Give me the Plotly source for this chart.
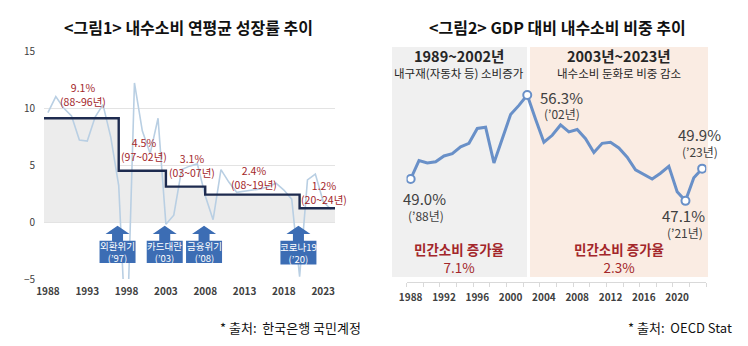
import plotly.graph_objects as go

W, H = 748, 346
FONT = "Noto Sans CJK KR"
RED = "#A3262A"
GRAY_TXT = "#404040"

# ---------------- Figure 1: private consumption growth (%, y/y)
years1 = list(range(1988, 2025))
growth = [9.6, 11.0, 10.0, 9.3, 7.2, 7.1, 9.2, 10.3, 7.4, 3.2,
          -11.5, 12.2, 8.0, 6.0, 9.1, -0.2, 0.6, 4.6, 4.9, 5.1,
          2.3, 0.2, 4.6, 3.5, 2.6, 2.7, 2.8, 2.9, 3.1, 3.4,
          2.8, 2.0, -4.8, 3.7, 4.2, 1.8, 1.1]

# period averages
period_start = [1988, 1997, 2003, 2008, 2020]
period_end = [1996, 2002, 2007, 2019, 2024]
period_avg = [9.1, 4.5, 3.1, 2.4, 1.2]

# crisis markers
crisis_names = ["외환위기", "카드대란", "금융위기", "코로나19"]
crisis_years = [1997, 2003, 2008, 2020]

x1_ticks = [1988, 1993, 1998, 2003, 2008, 2013, 2018, 2023]
y1_ticks = [-5, 0, 5, 10, 15]

# ---------------- Figure 2: private consumption share of GDP (%)
years2 = list(range(1988, 2024))
share = [49.0, 50.6, 50.4, 50.5, 51.0, 51.2, 51.8, 52.1, 53.4, 53.5,
         50.4, 52.5, 54.6, 55.4, 56.3, 54.2, 52.2, 52.8, 53.7, 53.1,
         53.3, 52.5, 51.3, 52.1, 52.2, 51.7, 50.9, 49.8, 49.4, 49.0,
         49.5, 50.1, 47.9, 47.1, 49.1, 49.9]
highlight_years = [1988, 2002, 2021, 2023]
x2_ticks = [1988, 1992, 1996, 2000, 2004, 2008, 2012, 2016, 2020]
consumption_growth = [7.1, 2.3]


def px_x(p):
    return p / W


def px_y(p):
    return 1 - p / H


def note(fig, x, y, text, size, color, xref="paper", yref="paper", xanchor="center", bold=False):
    fig.add_annotation(x=x, y=y, xref=xref, yref=yref, text=f"<b>{text}</b>" if bold else text,
                       showarrow=False, xanchor=xanchor, yanchor="middle",
                       font=dict(family=FONT, size=size, color=color))


fig = go.Figure()

# ---- left panel geometry
L_X0, L_X1 = 44, 335
L_YTOP, L_YBOT = 51, 279
Y1_RANGE = [-5, 15]
X1_RANGE = [years1[0] - 0.5, years1[-1] + 0.5]

# step outline of period averages
step_x = [X1_RANGE[0]] + period_start[1:] + [X1_RANGE[1]]
step_y = period_avg + [period_avg[-1]]

fig.add_trace(go.Scatter(x=step_x, y=step_y, mode="lines", line=dict(width=0, shape="hv"),
                         fill="tozeroy", fillcolor="#ECECEC", hoverinfo="skip",
                         xaxis="x", yaxis="y", showlegend=False))
fig.add_trace(go.Scatter(x=years1, y=growth, mode="lines",
                         line=dict(color="#B9CFE3", width=1.6),
                         xaxis="x", yaxis="y", showlegend=False))
fig.add_trace(go.Scatter(x=step_x, y=step_y, mode="lines",
                         line=dict(color="#1E2B4F", width=2.4, shape="hv"),
                         xaxis="x", yaxis="y", showlegend=False))

ppy = (L_X1 - L_X0) / (X1_RANGE[1] - X1_RANGE[0])       # px per year
ppu = (L_YBOT - L_YTOP) / (Y1_RANGE[1] - Y1_RANGE[0])    # px per unit

# period average labels (x shift in years, height of the label centre above the step in px)
lab_dx = [0.5, 0.7, 1.3, 0.7, 1.1]
lab_dy = [24, 21, 21, 17, 16]
for s, e, v, dx, dy in zip(period_start, period_end, period_avg, lab_dx, lab_dy):
    xc = (s + e) / 2 + dx
    note(fig, xc, v + dy / ppu, f"{v}%<br>({s % 100:02d}~{e % 100:02d}년)", 10.5, RED, "x", "y")

# crisis callouts: box with an up arrow pointing at the zero line
for name, yr in zip(crisis_names, crisis_years):
    c = yr - 0.15
    bw, sw, hw = 18 / ppy, 5.5 / ppy, 12 / ppy
    tip, hb, bt, bb = -3.8 / ppu, -12 / ppu, -18.7 / ppu, -41 / ppu
    if name == "코로나19":
        bb = -42.5 / ppu
    path = (f"M {c},{tip} L {c + hw},{hb} L {c + sw},{hb} L {c + sw},{bt} L {c + bw},{bt} "
            f"L {c + bw},{bb} L {c - bw},{bb} L {c - bw},{bt} L {c - sw},{bt} L {c - sw},{hb} "
            f"L {c - hw},{hb} Z")
    fig.add_shape(type="path", path=path, xref="x", yref="y",
                  fillcolor="#3C6DB4", line=dict(width=0), layer="above")
    note(fig, c, (bt + bb) / 2, f"{name}<br>(’{yr % 100:02d})", 9.5, "white", "x", "y")

# ---- right panel geometry
R_X0, R_X1 = 406.5, 706.3
R_YTOP, R_YBOT = 47, 281.7
X2_RANGE = [years2[0] - 0.5, years2[-1] + 0.5]
ppu2 = 11.5
Y2_RANGE = [49.0 - (R_YBOT - 179) / ppu2, 49.0 + (179 - R_YTOP) / ppu2]

fig.add_shape(type="rect", xref="paper", yref="paper", x0=px_x(392), x1=px_x(527),
              y0=px_y(277), y1=px_y(47), fillcolor="#F0F0F0", line=dict(width=0), layer="below")
fig.add_shape(type="rect", xref="paper", yref="paper", x0=px_x(530), x1=px_x(708),
              y0=px_y(277), y1=px_y(47), fillcolor="#FAECE3", line=dict(width=0), layer="below")

fig.add_trace(go.Scatter(x=years2, y=share, mode="lines",
                         line=dict(color="#6990C8", width=3),
                         xaxis="x2", yaxis="y2", showlegend=False))
hl_vals = [share[years2.index(y)] for y in highlight_years]
fig.add_trace(go.Scatter(x=highlight_years, y=hl_vals, mode="markers",
                         marker=dict(size=8, color="white", line=dict(color="#6990C8", width=2)),
                         xaxis="x2", yaxis="y2", showlegend=False))

# value labels for highlighted points (x shift in years, downward shift in px, line gap in px)
hl_off = [(1.7, 19, 17), (4.1, 2, 16), (-0.2, 15, 17), (-0.35, -34, 17)]
for yr, v, (dx, dy, gap) in zip(highlight_years, hl_vals, hl_off):
    ycen = v - dy / ppu2
    note(fig, yr + dx, ycen, f"{v:.1f}%", 15, GRAY_TXT, "x2", "y2")
    note(fig, yr + dx + 0.1, ycen - gap / ppu2, f"(’{yr % 100:02d}년)", 12, GRAY_TXT, "x2", "y2")

# era headers and growth notes
eras = [("1989~2002년", "내구재(자동차 등) 소비증가", 459),
        ("2003년~2023년", "내수소비 둔화로 비중 감소", 619)]
for (head, sub, cx), g in zip(eras, consumption_growth):
    note(fig, px_x(cx), px_y(55), head, 14.5, "#262626", bold=True)
    note(fig, px_x(cx), px_y(73), sub, 11.5, "#262626")
    note(fig, px_x(cx), px_y(258), f"<b>민간소비 증가율</b><br>{g}%", 13.5, RED)

# titles and sources
note(fig, px_x(188), px_y(27), "&lt;그림1&gt; 내수소비 연평균 성장률 추이", 16, "#111111", bold=True)
note(fig, px_x(557), px_y(27), "&lt;그림2&gt; GDP 대비 내수소비 비중 추이", 16, "#111111", bold=True)
note(fig, px_x(363), px_y(327), "* 출처:  한국은행 국민계정", 13, "#111111", xanchor="right")
note(fig, px_x(734), px_y(327), "* 출처:  OECD Stat", 13, "#111111", xanchor="right")

ydom1 = [px_y(L_YBOT), px_y(L_YTOP)]
zero_pos = ydom1[0] + (0 - Y1_RANGE[0]) / (Y1_RANGE[1] - Y1_RANGE[0]) * (ydom1[1] - ydom1[0])

fig.update_layout(
    width=W, height=H, margin=dict(l=0, r=0, t=0, b=0, autoexpand=False),
    paper_bgcolor="white", plot_bgcolor="rgba(0,0,0,0)",
    font=dict(family=FONT),
    xaxis=dict(domain=[px_x(L_X0), px_x(L_X1)], range=X1_RANGE, anchor="y", automargin=False,
               tickvals=x1_ticks, showgrid=False, showline=False, zeroline=False,
               ticks="", ticklabelstandoff=5,
               tickfont=dict(family=FONT, size=10, color=GRAY_TXT, weight="bold")),
    yaxis=dict(domain=ydom1, range=Y1_RANGE, anchor="x", tickvals=y1_ticks, automargin=False,
               showgrid=True, gridcolor="#E3E3E3", gridwidth=1, zeroline=False,
               showline=False, ticks="", ticklabelstandoff=8,
               tickfont=dict(family=FONT, size=10, color=GRAY_TXT)),
    xaxis3=dict(overlaying="x", anchor="free", position=zero_pos, range=X1_RANGE,
                automargin=False,
                showline=True, linecolor="#7F7F7F", linewidth=1.2,
                ticks="outside", ticklen=5, tickcolor="#7F7F7F",
                tickvals=[X1_RANGE[0] + k for k in range(len(years1) + 1)],
                showticklabels=False, showgrid=False, zeroline=False),
    xaxis2=dict(domain=[px_x(R_X0), px_x(R_X1)], range=X2_RANGE, anchor="y2", automargin=False,
                tickvals=x2_ticks, showgrid=False, zeroline=False,
                showline=True, linecolor="#D9D9D9", linewidth=1,
                ticks="", ticklabelstandoff=6,
                minor=dict(tickvals=[X2_RANGE[0] + 2 * k for k in range(19)],
                           ticks="outside", ticklen=4, tickcolor="#D9D9D9"),
                tickfont=dict(family=FONT, size=10, color=GRAY_TXT, weight="bold")),
    yaxis2=dict(domain=[px_y(R_YBOT), px_y(R_YTOP)], range=Y2_RANGE, anchor="x2",
                automargin=False, visible=False),
)

fig.write_html("out.html")
